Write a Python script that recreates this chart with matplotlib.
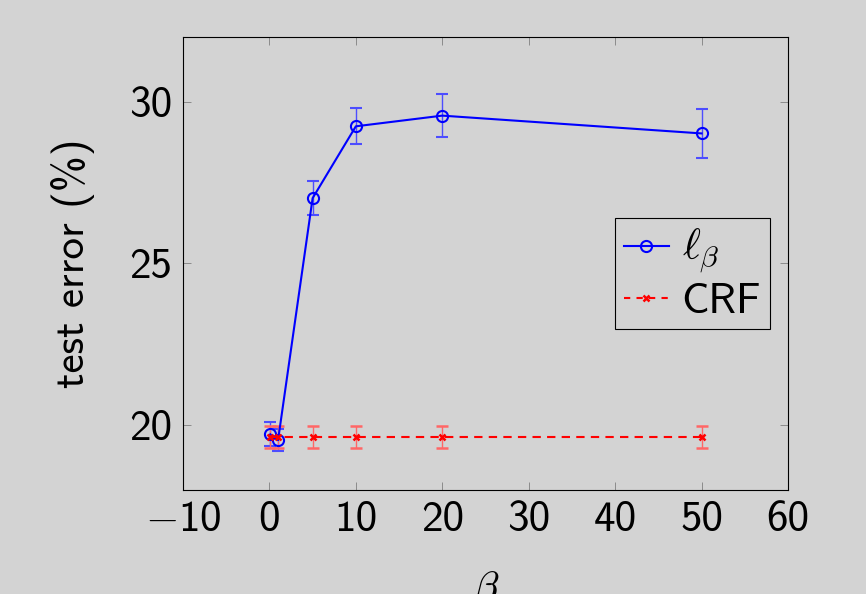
import matplotlib
matplotlib.use("Agg")
import matplotlib.pyplot as plt
from matplotlib.lines import Line2D
from matplotlib.ticker import FuncFormatter

plt.rcParams['font.family'] = ['cmss10', 'DejaVu Sans']
plt.rcParams['mathtext.fontset'] = 'cm'
plt.rcParams['axes.unicode_minus'] = False

# значения beta и ошибки
beta = [0.1, 1, 5, 10, 20, 50]
lb_err = [19.72, 19.54, 27.02, 29.24, 29.57, 29.02]
lb_std = [0.37, 0.34, 0.53, 0.56, 0.66, 0.75]
crf_err = [19.64, 19.64, 19.64, 19.64, 19.64, 19.64]
crf_std = [0.34, 0.34, 0.34, 0.34, 0.34, 0.34]

bg = '#d3d3d3'
fs = 31
fig = plt.figure(figsize=(8.66, 5.94), dpi=100, facecolor=bg)
ax = fig.add_axes([0.2113, 0.1751, 0.6986, 0.7626], facecolor=bg)

ax.errorbar(beta, lb_err, yerr=lb_std, color='blue', lw=1.5, marker='o',
            ms=8, mfc='none', mew=1.5, ecolor=(0.3, 0.3, 1.0), elinewidth=1,
            capsize=4.5, capthick=1)
ax.errorbar(beta, crf_err, yerr=crf_std, color='red', lw=1.5, ls=(0, (4, 3)),
            marker='x', ms=5, mew=1.8, ecolor=(1.0, 0.4, 0.4), elinewidth=1,
            capsize=4.5, capthick=1)

def fmt(v, pos):
    if v < 0:
        return r'$-$' + '%d' % abs(v)
    return '%d' % v

ax.set_xlim(-10, 60)
ax.set_ylim(18, 32)
ax.set_xticks([-10, 0, 10, 20, 30, 40, 50, 60])
ax.set_yticks([20, 25, 30])
ax.xaxis.set_major_formatter(FuncFormatter(fmt))
ax.tick_params(direction='in', top=True, right=True, length=6, width=0.6,
               color='#808080', labelsize=fs, pad=8)
ax.set_xlabel(r'$\beta$', fontsize=fs, labelpad=22)
ax.set_ylabel('test error (%)', fontsize=fs, labelpad=24)

handles = [Line2D([], [], color='blue', lw=1.5, marker='o', ms=8, mfc='none', mew=1.5),
           Line2D([], [], color='red', lw=1.5, ls=(0, (3, 3)), marker='x', ms=5, mew=1.8)]
leg = ax.legend(handles, [r'$\ell_\beta$', 'CRF'], loc='upper left',
                bbox_to_anchor=(0.714, 0.6), fontsize=fs,
                fancybox=False, framealpha=1, facecolor=bg, edgecolor='black',
                handlelength=1.05, borderpad=0.2, labelspacing=0.15, handletextpad=0.3,
                borderaxespad=0)
leg.get_frame().set_linewidth(0.8)

fig.savefig('out.png', dpi=100, facecolor=bg)
